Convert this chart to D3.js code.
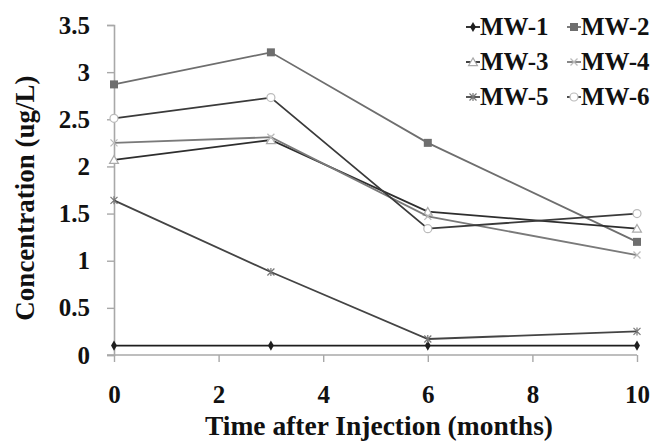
<!DOCTYPE html>
<html>
<head>
<meta charset="utf-8">
<title>Concentration</title>
<script src="https://d3js.org/d3.v7.min.js"></script>
<style>
body { margin: 0; background: #fff; }
text { font-family: "Liberation Serif", "DejaVu Serif", serif; font-weight: bold; fill: #111; }
</style>
</head>
<body>
<div id="chart"></div>
<script>
// data
var months = [0, 3, 6, 10];
var mw1 = [0.1, 0.1, 0.1, 0.1];
var mw2 = [2.87, 3.21, 2.25, 1.20];
var mw3 = [2.07, 2.28, 1.52, 1.34];
var mw4 = [2.25, 2.31, 1.47, 1.06];
var mw5 = [1.64, 0.88, 0.17, 0.25];
var mw6 = [2.51, 2.73, 1.34, 1.50];
var seriesNames = ["MW-1", "MW-2", "MW-3", "MW-4", "MW-5", "MW-6"];
var xTicks = [0, 2, 4, 6, 8, 10];
var yTicks = [0, 0.5, 1, 1.5, 2, 2.5, 3, 3.5];

var width = 652, height = 441;
var margin = {left: 114, right: 15, top: 25, bottom: 86};

var allSeries = [mw1, mw2, mw3, mw4, mw5, mw6];
// line colour, marker type, marker colour
var styles = [
	{stroke: "#1e1e1e", marker: "diamond", fill: "#1e1e1e"},
	{stroke: "#6e6e6e", marker: "square", fill: "#6e6e6e"},
	{stroke: "#2e2e2e", marker: "triangle", fill: "#aaa"},
	{stroke: "#7a7a7a", marker: "cross", fill: "#bbb"},
	{stroke: "#444", marker: "star", fill: "#777"},
	{stroke: "#3a3a3a", marker: "circle", fill: "#bbb"}
];

var svg = d3.select("#chart").append("svg")
	.attr("width", width).attr("height", height);

var x = d3.scaleLinear().domain([0, 10]).range([margin.left, width - margin.right]);
var y = d3.scaleLinear().domain([0, 3.5]).range([height - margin.bottom, margin.top]);

// axes
var xAxis = svg.append("g")
	.attr("transform", "translate(0," + y(0) + ")")
	.call(d3.axisBottom(x).tickValues(xTicks).tickSize(7).tickPadding(23).tickFormat(d3.format("d")));
var yAxis = svg.append("g")
	.attr("transform", "translate(" + x(0) + ",0)")
	.call(d3.axisLeft(y).tickValues(yTicks).tickSize(7).tickPadding(17).tickFormat(d => d));
[xAxis, yAxis].forEach(a => {
	a.select(".domain").attr("stroke", "#a8a8a8").attr("stroke-width", 1.6);
	a.selectAll(".tick line").attr("stroke", "#a8a8a8").attr("stroke-width", 1.4);
	a.selectAll(".tick text").style("font-size", "25px").attr("fill", "#111")
		.style("font-family", "'Liberation Serif', serif").style("font-weight", "bold");
});
// x domain extends left to the y ticks
xAxis.select(".domain").attr("d", "M" + (x(0) - 7) + ",0H" + x(10));

// axis titles
svg.append("text")
	.attr("x", 379).attr("y", 435)
	.attr("text-anchor", "middle").style("font-size", "27.5px")
	.text("Time after Injection (months)");
svg.append("text")
	.attr("transform", "translate(34,198) rotate(-90)")
	.attr("text-anchor", "middle").style("font-size", "27px")
	.text("Concentration (ug/L)");

function drawMarker(g, type, cx, cy, fill) {
	if (type == "diamond") {
		g.append("path").attr("d", d3.symbol(d3.symbolDiamond, 30)()).attr("transform", "translate(" + cx + "," + cy + ")").attr("fill", fill);
	} else if (type == "square") {
		g.append("rect").attr("x", cx - 4).attr("y", cy - 4).attr("width", 8).attr("height", 8).attr("fill", fill);
	} else if (type == "triangle") {
		g.append("path").attr("d", d3.symbol(d3.symbolTriangle, 34)()).attr("transform", "translate(" + cx + "," + (cy + 1) + ")")
			.attr("fill", "#fff").attr("stroke", fill).attr("stroke-width", 1.2);
	} else if (type == "cross") {
		g.append("path").attr("d", "M-3.5,-3.5L3.5,3.5M-3.5,3.5L3.5,-3.5").attr("transform", "translate(" + cx + "," + cy + ")")
			.attr("stroke", fill).attr("stroke-width", 1.3);
	} else if (type == "star") {
		g.append("path").attr("d", "M-3.5,-3.5L3.5,3.5M-3.5,3.5L3.5,-3.5M0,-4L0,4").attr("transform", "translate(" + cx + "," + cy + ")")
			.attr("stroke", fill).attr("stroke-width", 1.2);
	} else if (type == "circle") {
		g.append("circle").attr("cx", cx).attr("cy", cy).attr("r", 4)
			.attr("fill", "#fff").attr("stroke", fill).attr("stroke-width", 1.2);
	}
}

var line = d3.line().x((d, i) => x(months[i])).y(d => y(d));

allSeries.forEach((vals, s) => {
	var g = svg.append("g");
	g.append("path").datum(vals).attr("d", line)
		.attr("fill", "none").attr("stroke", styles[s].stroke).attr("stroke-width", 1.8);
	vals.forEach((v, i) => drawMarker(g, styles[s].marker, x(months[i]), y(v), styles[s].fill));
});

// legend
var legend = svg.append("g");
seriesNames.forEach((name, s) => {
	var col = s % 2, row = Math.floor(s / 2);
	var lx = 466 + col * 101, ly = 27 + row * 35;
	var g = legend.append("g");
	g.append("line").attr("x1", lx).attr("x2", lx + 14).attr("y1", ly).attr("y2", ly)
		.attr("stroke", styles[s].stroke).attr("stroke-width", 1.8);
	drawMarker(g, styles[s].marker, lx + 7, ly, styles[s].fill);
	g.append("text").attr("x", lx + 14).attr("y", ly + 8).style("font-size", "25px").text(name);
});
</script>
</body>
</html>
